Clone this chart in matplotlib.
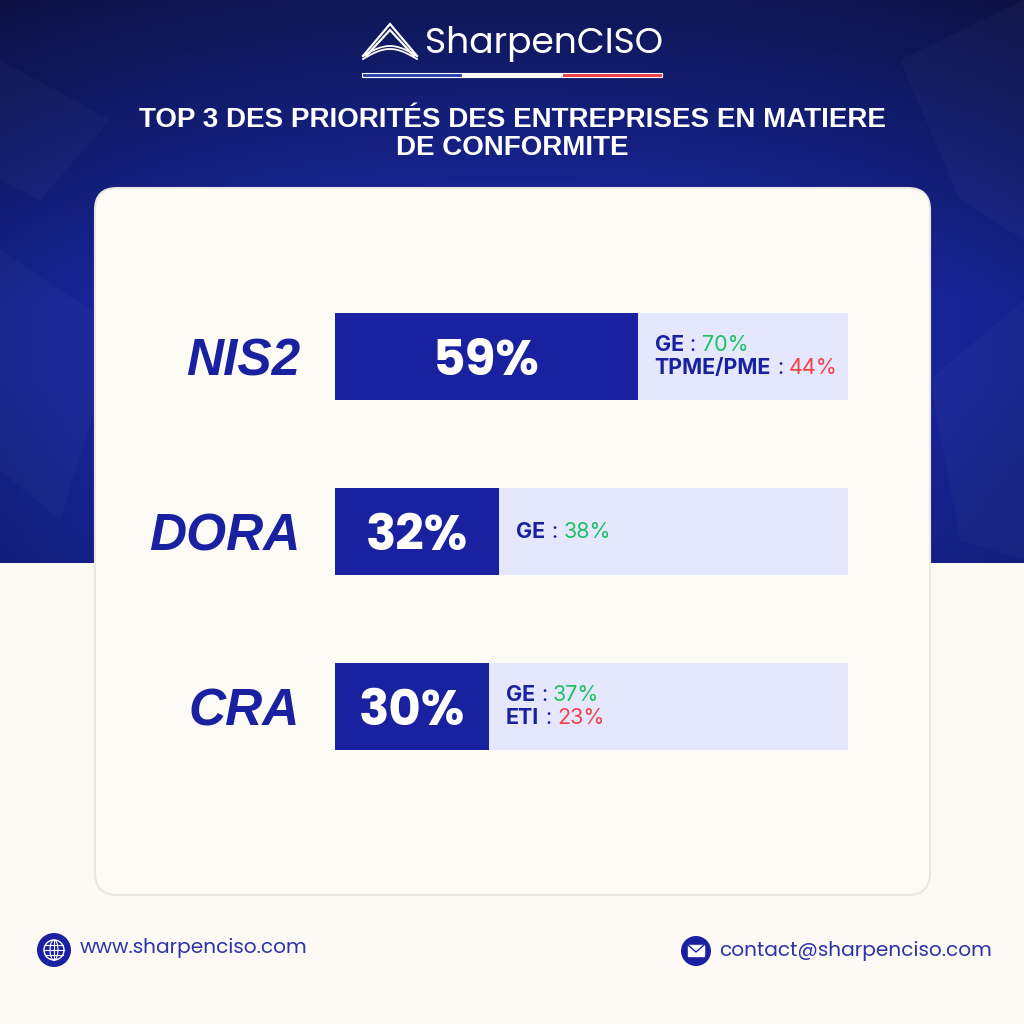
import numpy as np
import matplotlib
matplotlib.use("Agg")
import matplotlib.pyplot as plt
from matplotlib.patches import FancyBboxPatch, Circle, Rectangle, Polygon, Ellipse
from matplotlib.transforms import IdentityTransform

# ---- data ----
categories = ["NIS2", "DORA", "CRA"]
values = [59, 32, 30]
details = [
    [("GE", "70%", "green"), ("TPME/PME", "44%", "red")],
    [("GE", "38%", "green")],
    [("GE", "37%", "green"), ("ETI", "23%", "red")],
]
title = "TOP 3 DES PRIORITÉS DES ENTREPRISES EN MATIERE\nDE CONFORMITE"
brand = "SharpenCISO"
website = "www.sharpenciso.com"
email = "contact@sharpenciso.com"

NAVY = "#1a21a0"
LIGHT = "#e5e7fc"
CREAM = "#fdfaf5"
COLORS = {"green": "#1ec162", "red": "#f2424a"}

fig = plt.figure(figsize=(10.24, 10.24), dpi=100)
fig.patch.set_facecolor(CREAM)
ax = fig.add_axes([0, 0, 1, 1])
ax.set_xlim(0, 1024)
ax.set_ylim(1024, 0)
ax.axis("off")

# ---- blue header background ----
H = 563
yy, xx = np.mgrid[0:H, 0:1024]
t = np.clip(yy / 300.0, 0, 1)
dark = np.array([0.06, 0.09, 0.34])
bright = np.array([0.11, 0.17, 0.70])
base = dark[None, None, :] * (1 - t[..., None]) + bright[None, None, :] * t[..., None]
edge = 1 - 0.22 * (np.abs(xx - 512) / 512.0) ** 2
low = 1 - 0.12 * np.clip((yy - 380) / 180.0, 0, 1)
img = np.clip(base * (edge * low)[..., None], 0, 1)
ax.imshow(img, extent=[0, 1024, H, 0], aspect="auto", zorder=0)

# faint diagonal facets
facets = [
    [(0, 250), (120, 330), (60, 520), (0, 470)],
    [(900, 60), (1024, 0), (1024, 240), (960, 200)],
    [(930, 380), (1024, 300), (1024, 560), (960, 540)],
    [(0, 60), (110, 120), (40, 200), (0, 180)],
]
for pts in facets:
    ax.add_patch(Polygon(pts, closed=True, facecolor="white", alpha=0.025,
                         edgecolor="none", zorder=1))

# ---- logo ----
ax.text(425, 44, brand, color="white", fontsize=26, family="Poppins",
        ha="left", va="center", zorder=3)
for dx in (0, 3):
    ax.plot([363 + dx, 390, 417 - dx], [56, 24 + dx * 2, 56], color="white",
            lw=1.6, zorder=3, solid_joinstyle="miter")
xs = np.linspace(363, 417, 40)
for off in (0, 3):
    ax.plot(xs, 56 - 10 * np.sin((xs - 363) / 54 * np.pi) + off, color="white",
            lw=1.3, zorder=3)
seg = (662 - 362) / 3
for i, c in enumerate(["#2a3fa8", "white", "#ee3b44"]):
    ax.add_patch(Rectangle((362 + i * seg, 73), seg, 4, facecolor=c,
                           edgecolor="white", lw=0.8, zorder=3))

# ---- title ----
ax.text(512, 134, title, color="white", fontsize=20, fontweight="bold",
        family="Liberation Sans", ha="center", va="center",
        linespacing=1.12, zorder=3)

# ---- card ----
ax.add_patch(FancyBboxPatch((95, 188), 835, 707,
                            boxstyle="round,pad=0,rounding_size=22",
                            facecolor="#fdfbf6", edgecolor="#ebe8e1", lw=1.5,
                            zorder=2))

# ---- bars ----
x0, x1 = 335, 848
ytop, ybot = 269, 794
bax = fig.add_axes([x0 / 1024, 1 - ybot / 1024, (x1 - x0) / 1024,
                    (ybot - ytop) / 1024])
bax.set_xlim(0, 100)
bax.set_ylim(len(categories) - 0.5, -0.5)
bax.axis("off")
pos = np.arange(len(categories))
bax.barh(pos, [100] * len(categories), height=0.5, color=LIGHT, zorder=1)
bax.barh(pos, values, height=0.5, color=NAVY, zorder=2)

for i, (cat, v) in enumerate(zip(categories, values)):
    bax.text(-6.8, i + 0.11, cat, ha="right", va="baseline", color=NAVY,
             fontsize=37, fontweight="bold", fontstyle="italic",
             family="Liberation Sans")
    bax.text(v / 2, i + 0.105, f"{v}%", ha="center", va="baseline",
             color="white", fontsize=36, fontweight="bold", family="Poppins",
             zorder=3)

renderer = fig.canvas.get_renderer()


def rich_line(x_disp, y_disp, parts):
    x = x_disp
    for txt, col, weight, gap in parts:
        tt = fig.text(x, y_disp, txt, transform=IdentityTransform(),
                      color=col, fontsize=15.5, fontweight=weight,
                      family="Inter", ha="left", va="center",
                      zorder=5)
        bb = tt.get_window_extent(renderer)
        x = bb.x1 + gap


for i, (v, rows) in enumerate(zip(values, details)):
    n = len(rows)
    for j, (lab, val, col) in enumerate(rows):
        yoff = (j - (n - 1) / 2) * 0.132
        px, py = bax.transData.transform((v + 3.3, i + yoff))
        rich_line(px, py, [(lab, NAVY, "bold", 6), (":", NAVY, "normal", 6),
                           (val, COLORS[col], "normal", 0)])

# ---- footer ----
ax.add_patch(Circle((54, 950), 17, facecolor=NAVY, edgecolor="none", zorder=3))
ax.add_patch(Circle((54, 950), 10, facecolor="none", edgecolor="white", lw=1,
                    zorder=4))
ax.add_patch(Ellipse((54, 950), 8, 20, facecolor="none", edgecolor="white",
                     lw=0.8, zorder=4))
for dy in (-5, 0, 5):
    w = np.sqrt(max(100 - dy * dy, 0))
    ax.plot([54 - w, 54 + w], [950 + dy, 950 + dy], color="white", lw=0.8,
            zorder=4)
ax.plot([54, 54], [940, 960], color="white", lw=0.8, zorder=4)
ax.text(80, 948, website, color="#2b35a8", fontsize=14.5, family="Poppins",
        ha="left", va="center", zorder=3)

ax.add_patch(Circle((696, 951), 15, facecolor=NAVY, edgecolor="none", zorder=3))
ax.add_patch(Rectangle((688, 945), 16, 11, facecolor="white",
                       edgecolor="white", zorder=4))
ax.plot([688, 696, 704], [945, 952, 945], color=NAVY, lw=1, zorder=5)
ax.text(719, 951, email, color="#2b35a8", fontsize=14.5, family="Poppins",
        ha="left", va="center", zorder=3)

fig.savefig("out.png", dpi=100, facecolor=CREAM)
